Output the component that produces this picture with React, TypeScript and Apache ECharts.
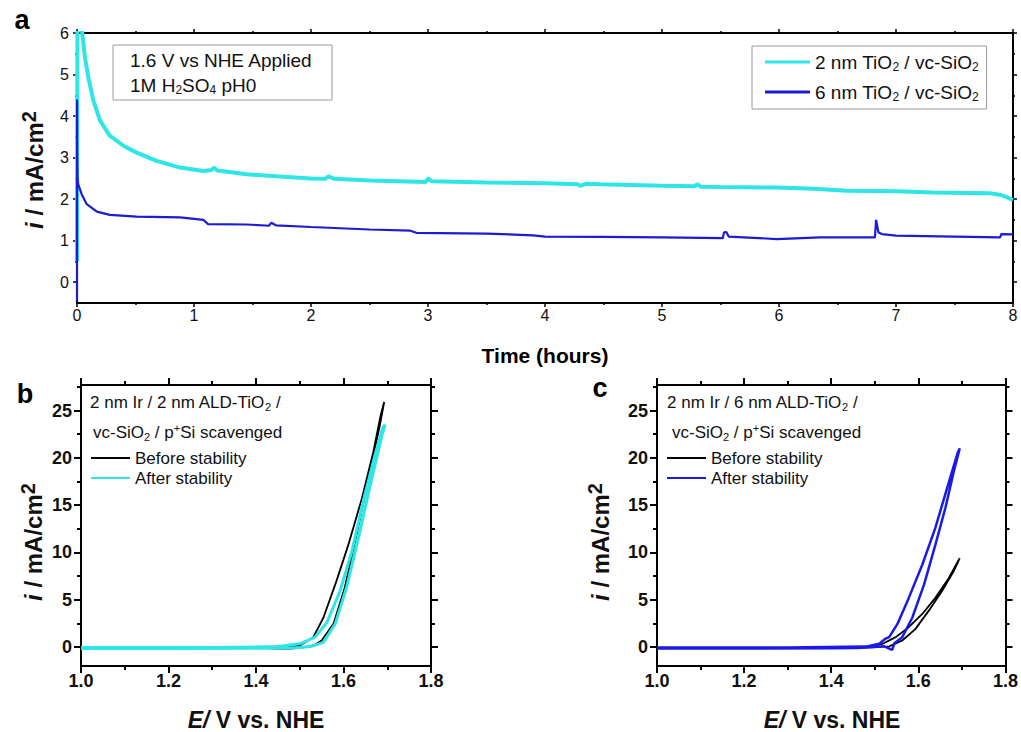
import React, { useEffect, useRef } from "react";
import * as echarts from "echarts";

const FONT = '"Liberation Sans", Arial, Helvetica, sans-serif';

// ---------- Panel a : chronoamperometry ----------
const aYMajor = [0, 1, 2, 3, 4, 5, 6];
const aYMinor = [0.5, 1.5, 2.5, 3.5, 4.5, 5.5];

const t2nm = [0, 0.004, 0.045, 0.068, 0.097, 0.14, 0.197, 0.28, 0.4, 0.51, 0.68, 0.88, 1.08, 1.15, 1.17, 1.2, 1.45, 1.7, 2.0, 2.12, 2.15, 2.2, 2.5, 2.98, 3.0, 3.03, 3.5, 4.0, 4.28, 4.3, 4.35, 4.47, 5.0, 5.28, 5.3, 5.33, 5.5, 5.98, 6.3, 6.58, 7.0, 7.32, 7.6, 7.8, 7.9, 7.96, 8.0];
const i2nm = [0.5, 6.6, 6.0, 5.41, 4.93, 4.37, 3.89, 3.53, 3.28, 3.12, 2.92, 2.76, 2.68, 2.7, 2.76, 2.69, 2.6, 2.55, 2.5, 2.49, 2.55, 2.49, 2.45, 2.41, 2.5, 2.43, 2.4, 2.38, 2.36, 2.32, 2.37, 2.36, 2.32, 2.31, 2.36, 2.3, 2.29, 2.28, 2.25, 2.2, 2.19, 2.16, 2.15, 2.14, 2.1, 2.03, 1.98];

const t6nm = [0, 0.0005, 0.002, 0.005, 0.01, 0.04, 0.083, 0.17, 0.28, 0.51, 0.88, 1.02, 1.08, 1.12, 1.45, 1.64, 1.66, 1.7, 2.0, 2.5, 2.85, 2.9, 3.5, 3.9, 4.0, 4.47, 5.0, 5.52, 5.53, 5.55, 5.57, 5.98, 6.35, 6.82, 6.83, 6.85, 6.88, 7.0, 7.5, 7.89, 7.9, 8.0];
const i6nm = [-0.45, 4.4, 3.0, 2.52, 2.36, 2.12, 1.88, 1.7, 1.62, 1.58, 1.56, 1.52, 1.5, 1.4, 1.39, 1.36, 1.43, 1.37, 1.33, 1.27, 1.24, 1.19, 1.17, 1.13, 1.1, 1.09, 1.08, 1.06, 1.2, 1.21, 1.1, 1.04, 1.08, 1.08, 1.5, 1.2, 1.16, 1.12, 1.1, 1.08, 1.16, 1.15];

// ---------- Panels b, c : cyclic voltammetry ----------
const cvYMajor = [0, 5, 10, 15, 20, 25];
const cvYMinor = [2.5, 7.5, 12.5, 17.5, 22.5, 27.5];

const bBeforeE = [1.35, 1.4, 1.45, 1.48, 1.5, 1.52, 1.535, 1.55, 1.577, 1.603, 1.63, 1.657, 1.683, 1.693, 1.685, 1.668, 1.642, 1.611, 1.584, 1.554, 1.531, 1.5, 1.48, 1.45, 1.42];
const bBeforeI = [0.0, -0.05, -0.15, -0.15, -0.05, 0.05, 0.25, 0.7, 2.45, 6.3, 11.9, 17.8, 23.4, 25.9, 24.5, 20.6, 15.7, 10.8, 7.0, 3.1, 1.05, 0.17, 0.05, 0.0, 0.0];
const bAfterE = [1.0, 1.2, 1.4, 1.48, 1.5, 1.525, 1.554, 1.581, 1.607, 1.634, 1.661, 1.688, 1.695, 1.69, 1.672, 1.645, 1.619, 1.592, 1.562, 1.535, 1.5, 1.45, 1.3, 1.0];
const bAfterI = [-0.15, -0.15, -0.12, -0.1, -0.05, 0.05, 0.5, 2.45, 6.3, 11.5, 17.1, 22.4, 23.5, 23.2, 20.3, 15.4, 10.1, 5.9, 2.6, 1.05, 0.35, 0.05, -0.05, -0.05];

const cBeforeE = [1.46, 1.5, 1.533, 1.563, 1.593, 1.624, 1.654, 1.681, 1.695, 1.69, 1.67, 1.639, 1.609, 1.578, 1.548, 1.518, 1.49, 1.46];
const cBeforeI = [-0.05, 0.0, 0.07, 0.7, 1.9, 3.85, 5.9, 8.0, 9.4, 9.0, 7.3, 5.2, 3.5, 2.1, 1.05, 0.35, 0.05, 0.0];
const cAfterE = [1.0, 1.2, 1.4, 1.46, 1.5, 1.52, 1.54, 1.545, 1.563, 1.586, 1.613, 1.639, 1.662, 1.681, 1.695, 1.69, 1.666, 1.639, 1.609, 1.578, 1.552, 1.533, 1.525, 1.51, 1.48, 1.3, 1.0];
const cAfterI = [-0.15, -0.15, -0.12, -0.1, 0.0, 0.1, -0.3, 0.4, 1.05, 3.1, 6.6, 10.8, 14.7, 18.5, 21.0, 20.5, 16.8, 12.6, 8.7, 5.2, 2.45, 1.05, 0.9, 0.35, 0.05, -0.05, -0.05];

const legendNames: Record<string, string> = {
  a2: "{t|2 nm TiO}{s|2}{t| / vc-SiO}{s|2}",
  a6: "{t|6 nm TiO}{s|2}{t| / vc-SiO}{s|2}",
  bBefore: "Before stability",
  bAfter: "After stability",
  cBefore: "Before stability",
  cAfter: "After stability",
};

const CYAN = "#2ee6e6";
const BLUE = "#1c1cd4";
const BLUE_C = "#1a1ae6";

const zip = (xs: number[], ys: number[]) => xs.map((x, i) => [x, ys[i]]);

const lineBlack = (w: number) => ({ color: "#000", width: w });

function xAxes(grid: number, min: number, max: number, interval: number, fmt: (v: number) => string, size: number, weight: string, tickLen: number, minorLen: number, tickW: number, margin: number) {
  const common = {
    type: "value",
    gridIndex: grid,
    min,
    max,
    interval,
    splitLine: { show: false },
    minorSplitLine: { show: false },
    axisLine: { show: true, onZero: false, lineStyle: lineBlack(2) },
    axisTick: { show: true, inside: false, length: tickLen, lineStyle: lineBlack(tickW) },
    minorTick: { show: true, splitNumber: 2, length: minorLen, lineStyle: lineBlack(tickW) },
  };
  return [
    {
      ...common,
      position: "bottom",
      axisLabel: { show: true, formatter: fmt, fontSize: size, fontWeight: weight, color: "#111", fontFamily: FONT, margin },
    },
    { ...common, position: "top", axisLabel: { show: false } },
  ];
}

function yAxes(grid: number, min: number, max: number, major: number[], minor: number[], size: number, weight: string, margin: number, tickLen: number, minorLen: number, tickW: number) {
  const base = {
    type: "value",
    gridIndex: grid,
    min,
    max,
    splitLine: { show: false },
    axisLabel: { show: false },
    axisLine: { show: false, onZero: false },
  };
  return [
    {
      ...base,
      position: "left",
      axisLine: { show: true, onZero: false, lineStyle: lineBlack(2) },
      axisTick: { show: true, inside: false, length: tickLen, customValues: major, lineStyle: lineBlack(tickW) },
      axisLabel: { show: true, customValues: major, fontSize: size, fontWeight: weight, color: "#111", fontFamily: FONT, margin },
    },
    { ...base, position: "left", axisTick: { show: true, inside: false, length: minorLen, customValues: minor, lineStyle: lineBlack(tickW) } },
    {
      ...base,
      position: "right",
      axisLine: { show: true, onZero: false, lineStyle: lineBlack(2) },
      axisTick: { show: true, inside: false, length: tickLen, customValues: major, lineStyle: lineBlack(tickW) },
    },
    { ...base, position: "right", axisTick: { show: true, inside: false, length: minorLen, customValues: minor, lineStyle: lineBlack(tickW) } },
  ];
}

const subRich = (size: number, lh: number) => ({
  t: { fontSize: size, fontFamily: FONT, color: "#111", lineHeight: lh },
  s: { fontSize: Math.round(size * 0.62), fontFamily: FONT, color: "#111", lineHeight: Math.round(size * 0.62), verticalAlign: "bottom" },
  p: { fontSize: Math.round(size * 0.62), fontFamily: FONT, color: "#111", lineHeight: Math.round(size * 0.62), verticalAlign: "top" },
});

const yTitleRich = {
  i: { fontSize: 24, fontWeight: "bold", fontStyle: "italic", fontFamily: FONT, color: "#000", lineHeight: 30 },
  n: { fontSize: 24, fontWeight: "bold", fontFamily: FONT, color: "#000", lineHeight: 30 },
  s: { fontSize: 20, fontWeight: "bold", fontFamily: FONT, color: "#000", lineHeight: 14, verticalAlign: "top" },
};
const xTitleRich = {
  e: { fontSize: 23, fontWeight: "bold", fontStyle: "italic", fontFamily: FONT, color: "#000" },
  n: { fontSize: 23, fontWeight: "bold", fontFamily: FONT, color: "#000" },
};

function textEl(x: number, y: number, text: string, rich: any, align = "left", rotation = 0) {
  return {
    type: "text",
    x,
    y,
    rotation,
    z: 10,
    style: { text, rich, align, textAlign: align, verticalAlign: "middle", textVerticalAlign: "middle", fill: "#111" },
  };
}

function plainLabel(x: number, y: number, text: string) {
  return {
    type: "text",
    x,
    y,
    z: 10,
    style: {
      text,
      fontSize: 27,
      fontWeight: "bold",
      fontFamily: FONT,
      fill: "#000",
      align: "center",
      textAlign: "center",
      verticalAlign: "middle",
      textVerticalAlign: "middle",
    },
  };
}

export default function App() {
  const ref = useRef<HTMLDivElement>(null);

  useEffect(() => {
    if (!ref.current) return;
    const chart = echarts.init(ref.current, undefined, { renderer: "svg" });

    const fmtInt = (v: number) => String(Math.round(v));
    const fmt1 = (v: number) => v.toFixed(1);

    const legendCommon = {
      orient: "vertical",
      selectedMode: false,
      icon: "rect",
      formatter: (n: string) => legendNames[n],
    };

    const option: any = {
      animation: false,
      backgroundColor: "#fff",
      grid: [
        { left: 77, top: 33, width: 936, height: 270 },
        { left: 81, top: 385, width: 350, height: 281 },
        { left: 657, top: 385, width: 350, height: 281 },
      ],
      xAxis: [
        ...xAxes(0, 0, 8, 1, fmtInt, 16, "normal", 4, 2, 1.5, 4),
        ...xAxes(1, 1.0, 1.8, 0.2, fmt1, 18, "bold", 7, 4, 2, 6),
        ...xAxes(2, 1.0, 1.8, 0.2, fmt1, 18, "bold", 7, 4, 2, 6),
      ],
      yAxis: [
        ...yAxes(0, -0.5, 6, aYMajor, aYMinor, 16, "normal", 8, 4, 2, 1.5),
        ...yAxes(1, -2, 27.7, cvYMajor, cvYMinor, 18, "bold", 9, 7, 4, 2),
        ...yAxes(2, -2, 27.7, cvYMajor, cvYMinor, 18, "bold", 9, 7, 4, 2),
      ],
      legend: [
        {
          ...legendCommon,
          data: ["a2", "a6"],
          left: 752,
          top: 46,
          padding: [5, 8, 6, 13],
          itemGap: 8,
          itemWidth: 45,
          itemHeight: 3,
          borderColor: "#9a9a9a",
          borderWidth: 1,
          backgroundColor: "#fff",
          textStyle: { fontFamily: FONT, fontSize: 19, color: "#111", lineHeight: 22, rich: subRich(19, 22) },
        },
        {
          ...legendCommon,
          data: ["bBefore", "bAfter"],
          left: 91,
          top: 448,
          padding: 0,
          itemGap: 0,
          itemWidth: 39,
          itemHeight: 2,
          textStyle: { fontFamily: FONT, fontSize: 17, color: "#111", lineHeight: 20 },
        },
        {
          ...legendCommon,
          data: ["cBefore", "cAfter"],
          left: 667,
          top: 448,
          padding: 0,
          itemGap: 0,
          itemWidth: 39,
          itemHeight: 2,
          textStyle: { fontFamily: FONT, fontSize: 17, color: "#111", lineHeight: 20 },
        },
      ],
      series: [
        {
          name: "a2", type: "line", xAxisIndex: 0, yAxisIndex: 0, data: zip(t2nm, i2nm),
          symbol: "none", showSymbol: false, color: CYAN, lineStyle: { color: CYAN, width: 4 }, z: 2,
        },
        {
          name: "a6", type: "line", xAxisIndex: 0, yAxisIndex: 0, data: zip(t6nm, i6nm),
          symbol: "none", showSymbol: false, color: BLUE, lineStyle: { color: BLUE, width: 2.2 }, z: 3,
        },
        {
          name: "bBefore", type: "line", xAxisIndex: 2, yAxisIndex: 4, data: zip(bBeforeE, bBeforeI),
          symbol: "none", showSymbol: false, color: "#000", lineStyle: { color: "#000", width: 1.8 }, z: 2,
        },
        {
          name: "bAfter", type: "line", xAxisIndex: 2, yAxisIndex: 4, data: zip(bAfterE, bAfterI),
          symbol: "none", showSymbol: false, color: CYAN, lineStyle: { color: CYAN, width: 3 }, z: 3,
        },
        {
          name: "cBefore", type: "line", xAxisIndex: 4, yAxisIndex: 8, data: zip(cBeforeE, cBeforeI),
          symbol: "none", showSymbol: false, color: "#000", lineStyle: { color: "#000", width: 1.8 }, z: 2,
        },
        {
          name: "cAfter", type: "line", xAxisIndex: 4, yAxisIndex: 8, data: zip(cAfterE, cAfterI),
          symbol: "none", showSymbol: false, color: BLUE_C, lineStyle: { color: BLUE_C, width: 2.5 }, z: 3,
        },
      ],
      graphic: [
        plainLabel(22, 20, "a"),
        plainLabel(25, 394, "b"),
        plainLabel(600, 388, "c"),
        {
          type: "rect",
          shape: { x: 113, y: 45, width: 219, height: 55 },
          style: { fill: "#fff", stroke: "#9a9a9a", lineWidth: 1 },
          z: 5,
        },
        textEl(130, 60, "{t|1.6 V vs NHE Applied}", subRich(19, 22)),
        textEl(130, 85, "{t|1M H}{s|2}{t|SO}{s|4}{t| pH0}", subRich(19, 22)),
        textEl(90, 402, "{t|2 nm Ir / 2 nm ALD-TiO}{s|2}{t| /}", subRich(17, 20)),
        textEl(93, 432, "{t|vc-SiO}{s|2}{t| / p}{p|+}{t|Si scavenged}", subRich(17, 20)),
        textEl(667, 402, "{t|2 nm Ir / 6 nm ALD-TiO}{s|2}{t| /}", subRich(17, 20)),
        textEl(672, 432, "{t|vc-SiO}{s|2}{t| / p}{p|+}{t|Si scavenged}", subRich(17, 20)),
        textEl(34, 170, "{i|i}{n| / mA/cm}{s|2}", yTitleRich, "center", Math.PI / 2),
        textEl(33, 542, "{i|i}{n| / mA/cm}{s|2}", yTitleRich, "center", Math.PI / 2),
        textEl(600, 542, "{i|i}{n| / mA/cm}{s|2}", yTitleRich, "center", Math.PI / 2),
        {
          type: "text",
          x: 545,
          y: 355,
          z: 10,
          style: {
            text: "Time (hours)", fontSize: 21, fontWeight: "bold", fontFamily: FONT, fill: "#000",
            align: "center", textAlign: "center", verticalAlign: "middle", textVerticalAlign: "middle",
          },
        },
        textEl(256, 720, "{e|E/}{n| V vs. NHE}", xTitleRich, "center"),
        textEl(832, 720, "{e|E/}{n| V vs. NHE}", xTitleRich, "center"),
      ],
    };

    chart.setOption(option);
    return () => chart.dispose();
  }, []);

  return (
    <div
      ref={ref}
      style={{ position: "fixed", left: 0, top: 0, width: 1021, height: 732, background: "#fff" }}
    />
  );
}
